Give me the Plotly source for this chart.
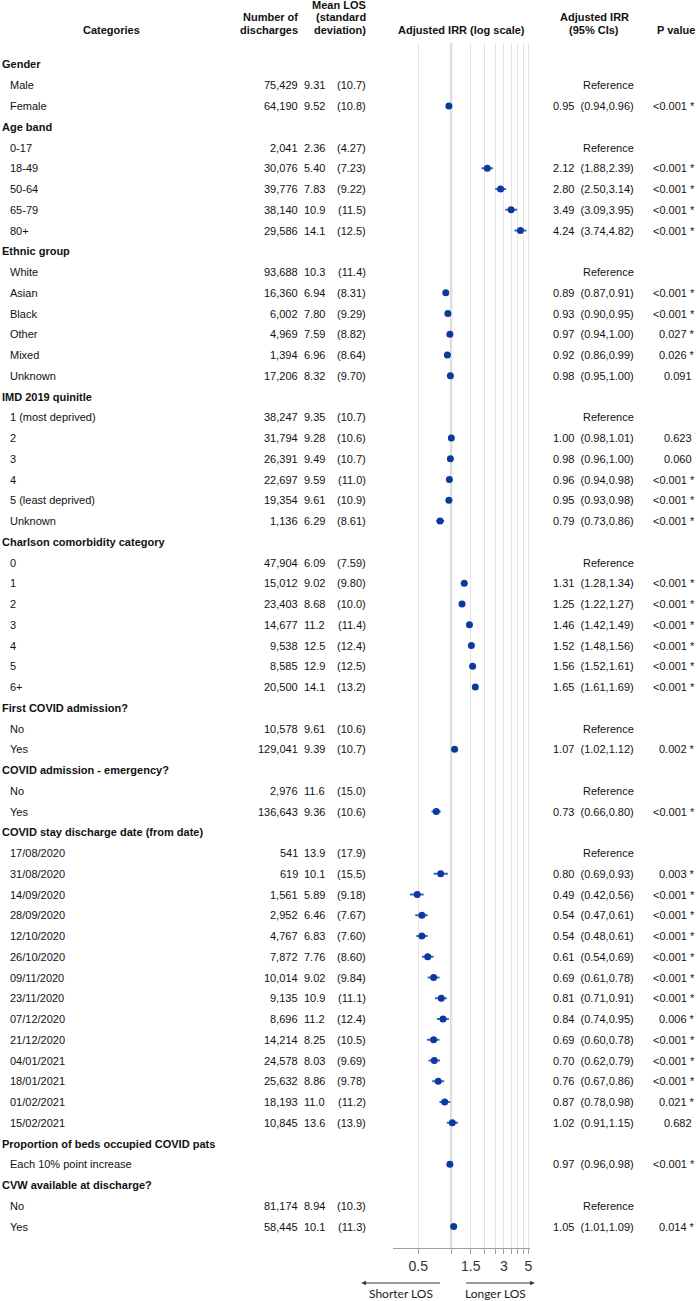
import math
import plotly.graph_objects as go

# ---------------- data ----------------
labels = [
    "Gender", "Male", "Female",
    "Age band", "0-17", "18-49", "50-64", "65-79", "80+",
    "Ethnic group", "White", "Asian", "Black", "Other", "Mixed", "Unknown",
    "IMD 2019 quinitle", "1 (most deprived)", "2", "3", "4", "5 (least deprived)", "Unknown",
    "Charlson comorbidity category", "0", "1", "2", "3", "4", "5", "6+",
    "First COVID admission?", "No", "Yes",
    "COVID admission - emergency?", "No", "Yes",
    "COVID stay discharge date (from date)", "17/08/2020", "31/08/2020", "14/09/2020",
    "28/09/2020", "12/10/2020", "26/10/2020", "09/11/2020", "23/11/2020", "07/12/2020",
    "21/12/2020", "04/01/2021", "18/01/2021", "01/02/2021", "15/02/2021",
    "Proportion of beds occupied COVID pats", "Each 10% point increase",
    "CVW available at discharge?", "No", "Yes",
]
is_header = [
    1, 0, 0,
    1, 0, 0, 0, 0, 0,
    1, 0, 0, 0, 0, 0, 0,
    1, 0, 0, 0, 0, 0, 0,
    1, 0, 0, 0, 0, 0, 0, 0,
    1, 0, 0,
    1, 0, 0,
    1, 0, 0, 0, 0, 0, 0, 0, 0, 0, 0, 0, 0, 0, 0,
    1, 0,
    1, 0, 0,
]
discharges = [
    None, 75429, 64190,
    None, 2041, 30076, 39776, 38140, 29586,
    None, 93688, 16360, 6002, 4969, 1394, 17206,
    None, 38247, 31794, 26391, 22697, 19354, 1136,
    None, 47904, 15012, 23403, 14677, 9538, 8585, 20500,
    None, 10578, 129041,
    None, 2976, 136643,
    None, 541, 619, 1561, 2952, 4767, 7872, 10014, 9135, 8696, 14214, 24578, 25632, 18193, 10845,
    None, None,
    None, 81174, 58445,
]
mean_los = [
    None, 9.31, 9.52,
    None, 2.36, 5.40, 7.83, 10.9, 14.1,
    None, 10.3, 6.94, 7.80, 7.59, 6.96, 8.32,
    None, 9.35, 9.28, 9.49, 9.59, 9.61, 6.29,
    None, 6.09, 9.02, 8.68, 11.2, 12.5, 12.9, 14.1,
    None, 9.61, 9.39,
    None, 11.6, 9.36,
    None, 13.9, 10.1, 5.89, 6.46, 6.83, 7.76, 9.02, 10.9, 11.2, 8.25, 8.03, 8.86, 11.0, 13.6,
    None, None,
    None, 8.94, 10.1,
]
sd_los = [
    None, 10.7, 10.8,
    None, 4.27, 7.23, 9.22, 11.5, 12.5,
    None, 11.4, 8.31, 9.29, 8.82, 8.64, 9.70,
    None, 10.7, 10.6, 10.7, 11.0, 10.9, 8.61,
    None, 7.59, 9.80, 10.0, 11.4, 12.4, 12.5, 13.2,
    None, 10.6, 10.7,
    None, 15.0, 10.6,
    None, 17.9, 15.5, 9.18, 7.67, 7.60, 8.60, 9.84, 11.1, 12.4, 10.5, 9.69, 9.78, 11.2, 13.9,
    None, None,
    None, 10.3, 11.3,
]
# "R" marks the reference category
irr = [
    None, "R", 0.95,
    None, "R", 2.12, 2.80, 3.49, 4.24,
    None, "R", 0.89, 0.93, 0.97, 0.92, 0.98,
    None, "R", 1.00, 0.98, 0.96, 0.95, 0.79,
    None, "R", 1.31, 1.25, 1.46, 1.52, 1.56, 1.65,
    None, "R", 1.07,
    None, "R", 0.73,
    None, "R", 0.80, 0.49, 0.54, 0.54, 0.61, 0.69, 0.81, 0.84, 0.69, 0.70, 0.76, 0.87, 1.02,
    None, 0.97,
    None, "R", 1.05,
]
ci_low = [
    None, None, 0.94,
    None, None, 1.88, 2.50, 3.09, 3.74,
    None, None, 0.87, 0.90, 0.94, 0.86, 0.95,
    None, None, 0.98, 0.96, 0.94, 0.93, 0.73,
    None, None, 1.28, 1.22, 1.42, 1.48, 1.52, 1.61,
    None, None, 1.02,
    None, None, 0.66,
    None, None, 0.69, 0.42, 0.47, 0.48, 0.54, 0.61, 0.71, 0.74, 0.60, 0.62, 0.67, 0.78, 0.91,
    None, 0.96,
    None, None, 1.01,
]
ci_high = [
    None, None, 0.96,
    None, None, 2.39, 3.14, 3.95, 4.82,
    None, None, 0.91, 0.95, 1.00, 0.99, 1.00,
    None, None, 1.01, 1.00, 0.98, 0.98, 0.86,
    None, None, 1.34, 1.27, 1.49, 1.56, 1.61, 1.69,
    None, None, 1.12,
    None, None, 0.80,
    None, None, 0.93, 0.56, 0.61, 0.61, 0.69, 0.78, 0.91, 0.95, 0.78, 0.79, 0.86, 0.98, 1.15,
    None, 0.98,
    None, None, 1.09,
]
p_values = [
    "", "", "<0.001 *",
    "", "", "<0.001 *", "<0.001 *", "<0.001 *", "<0.001 *",
    "", "", "<0.001 *", "<0.001 *", "0.027 *", "0.026 *", "0.091",
    "", "", "0.623", "0.060", "<0.001 *", "<0.001 *", "<0.001 *",
    "", "", "<0.001 *", "<0.001 *", "<0.001 *", "<0.001 *", "<0.001 *", "<0.001 *",
    "", "", "0.002 *",
    "", "", "<0.001 *",
    "", "", "0.003 *", "<0.001 *", "<0.001 *", "<0.001 *", "<0.001 *", "<0.001 *", "<0.001 *",
    "0.006 *", "<0.001 *", "<0.001 *", "<0.001 *", "0.021 *", "0.682",
    "", "<0.001 *",
    "", "", "0.014 *",
]
tick_vals = [0.5, 1, 1.5, 2, 2.5, 3, 3.5, 4, 4.5, 5]
tick_text = ["0.5", "", "1.5", "", "", "3", "", "", "", "5"]

# ---------------- layout helpers ----------------
W, H = 700, 1301
FONT = "Liberation Sans, Arial, sans-serif"
ROW0, ROWH = 64.5, 20.75          # pixel y of first row, row spacing
PLOT_TOP, PLOT_BOT = 43, 1248     # forest panel vertical extent (px)


def px_x(p):
    return p / W


def px_y(p):
    return 1 - p / H


y_top_r = (PLOT_TOP - ROW0) / ROWH
y_bot_r = (PLOT_BOT - ROW0) / ROWH

rows = list(range(len(labels)))

fig = go.Figure()

# forest points
xs, ys, ep, em = [], [], [], []
for i in rows:
    v = irr[i]
    if isinstance(v, float):
        xs.append(v)
        ys.append(i)
        ep.append(ci_high[i] - v)
        em.append(v - ci_low[i])

fig.add_trace(go.Scatter(
    x=xs, y=ys, mode="markers",
    marker=dict(size=7, color="#0b3a9f"),
    error_x=dict(type="data", symmetric=False, array=ep, arrayminus=em,
                 color="#3f64c0", thickness=2, width=0),
    cliponaxis=False, hoverinfo="skip", showlegend=False,
))

annotations = []


def add_text(x, y, text, xanchor="left", bold=False, size=11, yref="y", color="#111"):
    annotations.append(dict(
        x=x, y=y, xref="paper", yref=yref, text=f"<b>{text}</b>" if bold else text,
        showarrow=False, xanchor=xanchor, yanchor="middle",
        font=dict(family=FONT, size=size, color=color), borderpad=0, borderwidth=0,
    ))


# headers
add_text(px_x(112), px_y(30), "Categories", "center", True, yref="paper")
add_text(px_x(299), px_y(17), "Number of", "right", True, yref="paper")
add_text(px_x(299), px_y(30), "discharges", "right", True, yref="paper")
add_text(px_x(368), px_y(5), "Mean LOS", "right", True, yref="paper")
add_text(px_x(368), px_y(17), "(standard", "right", True, yref="paper")
add_text(px_x(368), px_y(30), "deviation)", "right", True, yref="paper")
add_text(px_x(463), px_y(30), "Adjusted IRR (log scale)", "center", True, yref="paper")
add_text(px_x(597), px_y(17), "Adjusted IRR", "center", True, yref="paper")
add_text(px_x(597), px_y(30), "(95% CIs)", "center", True, yref="paper")
add_text(px_x(698), px_y(30), "P value", "right", True, yref="paper")

for i in rows:
    if is_header[i]:
        add_text(px_x(2), i, labels[i], "left", True)
        continue
    add_text(px_x(10), i, labels[i], "left")
    if discharges[i] is not None:
        add_text(px_x(299), i, f"{discharges[i]:,}", "right")
    if mean_los[i] is not None:
        add_text(px_x(326), i, f"{mean_los[i]:#.3g}", "right")
        add_text(px_x(368), i, f"({sd_los[i]:#.3g})", "right")
    v = irr[i]
    if v == "R":
        add_text(px_x(637), i, "Reference", "right")
    elif isinstance(v, float):
        add_text(px_x(637), i, f"{v:.2f}&nbsp; ({ci_low[i]:.2f},{ci_high[i]:.2f})", "right")
    p = p_values[i]
    if p:
        xr = 698 if p.endswith("*") else 695
        add_text(px_x(xr), i, p, "right")

# direction arrows and labels
ARROW_Y = px_y(1283)
annotations.append(dict(x=px_x(363), y=ARROW_Y, xref="paper", yref="paper", text="",
                        showarrow=True, ax=80, ay=0, arrowhead=2, arrowsize=0.9,
                        arrowwidth=1, arrowcolor="#333", standoff=0, startstandoff=0))
annotations.append(dict(x=px_x(537), y=ARROW_Y, xref="paper", yref="paper", text="",
                        showarrow=True, ax=-70, ay=0, arrowhead=2, arrowsize=0.9,
                        arrowwidth=1, arrowcolor="#333", standoff=0, startstandoff=0))
add_text(px_x(403), px_y(1293), "Shorter LOS", "center", size=12, yref="paper",
         color="#222")
annotations[-1]["font"]["family"] = "Lato, Open Sans, sans-serif"
add_text(px_x(498), px_y(1293), "Longer LOS", "center", size=12, yref="paper",
         color="#222")
annotations[-1]["font"]["family"] = "Lato, Open Sans, sans-serif"

x_lo = math.log10(0.297)
x_hi = math.log10(5.15)

fig.update_layout(
    width=W, height=H,
    margin=dict(l=0, r=0, t=0, b=0),
    paper_bgcolor="white", plot_bgcolor="white",
    showlegend=False,
    annotations=annotations,
    shapes=[dict(type="line", xref="x", yref="y", x0=1, x1=1,
                 y0=y_top_r, y1=y_bot_r, line=dict(color="#a8a8a8", width=1.6),
                 layer="below")],
    xaxis=dict(
        type="log", domain=[px_x(395), px_x(532)], range=[x_lo, x_hi],
        tickvals=tick_vals, ticktext=tick_text,
        showgrid=True, gridcolor="#e4e4e4", gridwidth=1,
        showline=True, linecolor="#a0a0a0", linewidth=1,
        ticks="outside", ticklen=5, tickcolor="#a0a0a0",
        tickfont=dict(family=FONT, size=14, color="#333"),
        zeroline=False, fixedrange=True, anchor="y",
    ),
    yaxis=dict(
        domain=[px_y(PLOT_BOT), px_y(PLOT_TOP)], range=[y_bot_r, y_top_r],
        showgrid=False, showticklabels=False, zeroline=False, showline=False,
        ticks="", fixedrange=True,
    ),
)

fig.write_html(
    "out.html",
    config={"displayModeBar": False},
    post_script="document.body.style.margin='0';document.body.style.overflow='hidden';",
)
